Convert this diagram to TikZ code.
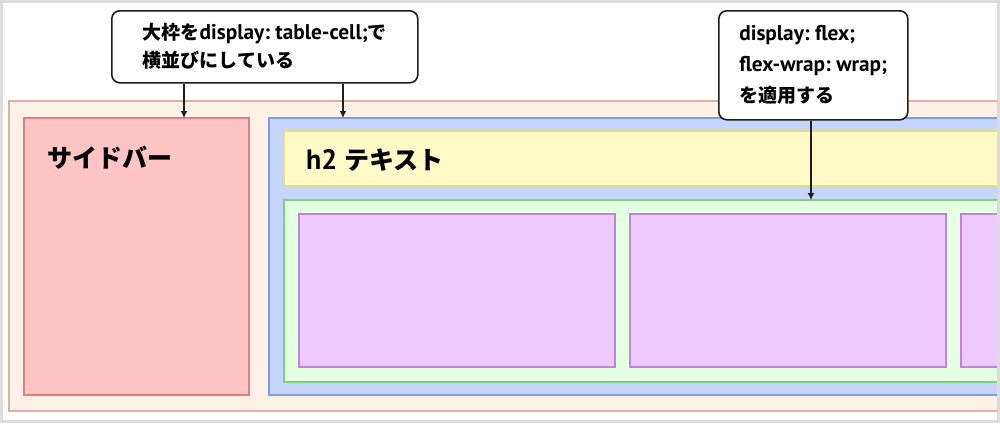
\documentclass[tikz,border=0pt]{standalone}
\usepackage{fontspec}
\setmainfont{PT Sans}[Scale=1.12]
\newfontfamily\jp{Noto Sans CJK JP}
\frenchspacing
\usetikzlibrary{arrows.meta, positioning}
\definecolor{lyFrame}{HTML}{DCDCDC}
\definecolor{lyInk}{HTML}{1E1E1E}
\definecolor{lyOuterBg}{HTML}{FFF1E8}
\definecolor{lyOuter}{HTML}{D9B39B}
\definecolor{lySideBg}{HTML}{FFC4C4}
\definecolor{lySide}{HTML}{E07F7F}
\definecolor{lyMainBg}{HTML}{C6D5FB}
\definecolor{lyMain}{HTML}{7D9DE0}
\definecolor{lyHeadBg}{HTML}{FEFBC8}
\definecolor{lyHead}{HTML}{E2DD8E}
\definecolor{lyFlexBg}{HTML}{E5FFE2}
\definecolor{lyFlex}{HTML}{80D080}
\definecolor{lyItemBg}{HTML}{EECAFE}
\definecolor{lyItem}{HTML}{BE84D9}
\tikzset{
  lybox/.style={rectangle, anchor=north west, inner sep=0pt, outer sep=0pt,
    line width=2pt},
  lylabel/.style={anchor=west, inner sep=0pt, font=\bfseries\fontsize{25}{30}\selectfont},
  lynote/.style={rectangle, rounded corners=8pt, draw=lyInk, line width=1.6pt,
    fill=white, anchor=north west, align=left, inner sep=0pt,
    font=\bfseries\fontsize{19}{28}\selectfont},
  lyarrow/.style={-{Latex[length=7pt, width=7pt]}, line width=1.4pt, lyInk}
}
\begin{document}
\begin{tikzpicture}[x=1pt, y=-1pt]
  \useasboundingbox (0,0) rectangle (1000,423);
  \fill[white] (0,0) rectangle (1000,423);
  \begin{scope}
    \clip (2,2) rectangle (997,420);
    % page layout
    \node[lybox, draw=lyOuter, fill=lyOuterBg, minimum width=1030pt, minimum height=310pt] (outer) at (9,101) {};
    \node[lybox, draw=lySide, fill=lySideBg, minimum width=225pt, minimum height=277pt] (sidebar) at (24,118) {};
    \node[lybox, draw=lyMain, fill=lyMainBg, minimum width=760pt, minimum height=277pt] (main) at (269,118) {};
    \node[lybox, draw=lyHead, fill=lyHeadBg, minimum width=740pt, minimum height=55pt] (heading) at (284,131) {};
    \node[lybox, draw=lyFlex, fill=lyFlexBg, minimum width=740pt, minimum height=182pt] (flexrow) at (284,200) {};
    \foreach \x/\nm in {299/itemA, 630/itemB, 961/itemC}
      \node[lybox, draw=lyItem, fill=lyItemBg, minimum width=316pt, minimum height=153pt] (\nm) at (\x,214) {};
    \node[lylabel] (sideText) at (47,158) {\jp サイドバー};
    \node[lylabel] (headText) at (306,160) {h2 {\jp テキスト}};
    % callouts
    \node[lynote, minimum width=306pt, minimum height=72pt] (noteCell) at (111,10)
      {{\jp 大枠を}display: table-cell;{\jp で}\\{\jp 横並びにしている}};
    \node[lynote, minimum width=189pt, minimum height=109pt,
      font=\bfseries\fontsize{19}{31}\selectfont] (noteFlex) at (718,10)
      {display: flex;\\flex-wrap: wrap;\\{\jp を適用する}};
    \draw[lyarrow] (noteCell.south -| 184,0) -- (sidebar.north -| 184,0);
    \draw[lyarrow] (noteCell.south -| 343,0) -- (main.north -| 343,0);
    \draw[lyarrow] (noteFlex.south -| 811,0) -- (flexrow.north -| 811,0);
  \end{scope}
  \draw[lyFrame, line width=3pt] (1.5,1.5) rectangle (998.5,421.5);
\end{tikzpicture}
\end{document}
